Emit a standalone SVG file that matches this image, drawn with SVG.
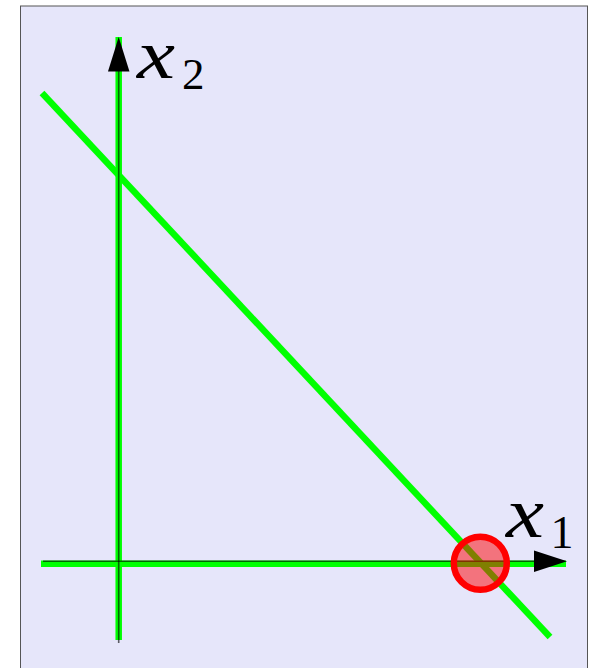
<svg xmlns="http://www.w3.org/2000/svg" width="596" height="668" viewBox="0 0 596 668">
<style>
.green{stroke:#00ff00;stroke-width:6.5;fill:none}
.axis{stroke:#000;stroke-opacity:0.6;stroke-width:1.6;fill:none}
.var{font-family:"Liberation Serif","DejaVu Serif",serif;font-style:italic;fill:#000}
.sub{font-family:"Liberation Serif","DejaVu Serif",serif;fill:#000}
</style>
<rect x="20.5" y="6" width="567" height="670" fill="#e6e6fa" stroke="#555" stroke-width="1"/>
<g id="connectors">
<line class="green" x1="41" y1="563.8" x2="566" y2="563.8"/>
<line class="green" x1="118.7" y1="37" x2="118.7" y2="640"/>
<line class="green" x1="42" y1="93" x2="550" y2="637"/>
<line class="axis" x1="43" y1="561.2" x2="540" y2="561.2"/>
<line class="axis" x1="118.7" y1="65" x2="118.7" y2="643"/>
<polygon points="567,561.2 534,550.5 534,572" fill="#000"/>
<polygon points="118.7,37 108,71.5 129.5,71.5" fill="#000"/>
</g>
<g id="x1-label">
<text class="var" x="506" y="537" font-size="72" textLength="38" lengthAdjust="spacingAndGlyphs">x</text>
<text class="sub" x="550.5" y="548" font-size="46">1</text>
</g>
<g id="x2-label">
<text class="var" x="137" y="78" font-size="70" textLength="38" lengthAdjust="spacingAndGlyphs">x</text>
<text class="sub" x="182" y="89" font-size="45">2</text>
</g>
<g id="optimum">
<circle cx="480.3" cy="563.3" r="26.5" fill="#ff0000" fill-opacity="0.5" stroke="#ff0000" stroke-width="6.5"/>
</g>
</svg>
